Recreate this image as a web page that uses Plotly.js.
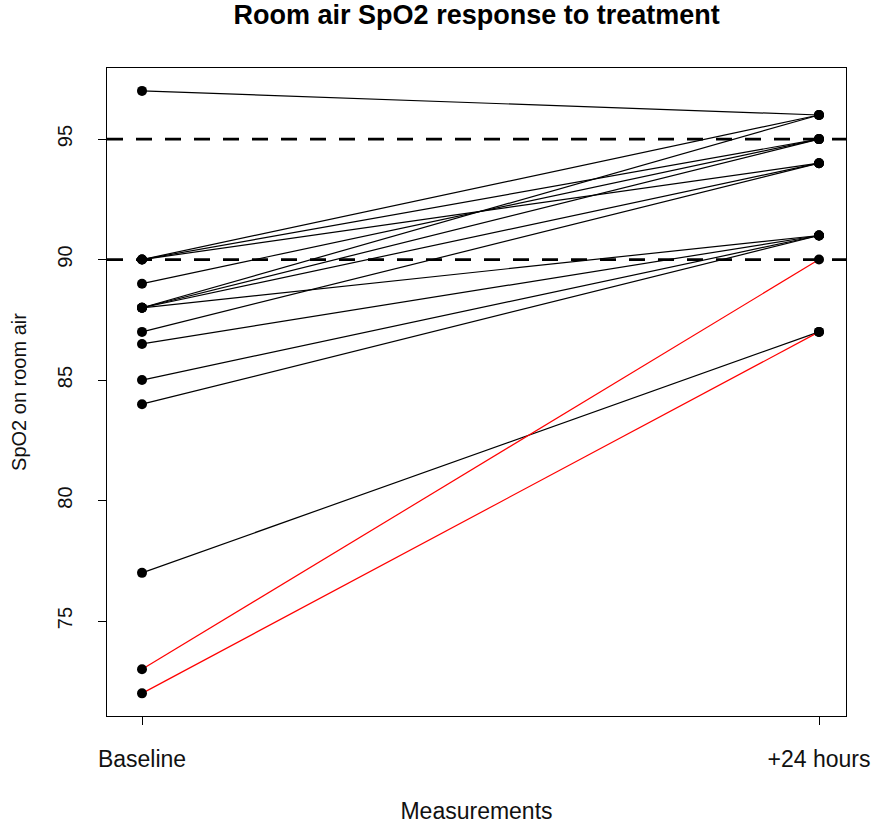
<!DOCTYPE html>
<html>
<head>
<meta charset="utf-8">
<script src="https://cdn.plot.ly/plotly-3.0.1.min.js"></script>
<style>html,body{margin:0;padding:0;background:#fff;}#chart{width:873px;height:826px;}</style>
</head>
<body>
<div id="chart"></div>
<script>
// Data
var timepoints = ["Baseline", "+24 hours"];
var baseline   = [97, 90, 90, 90, 89, 88, 88, 88, 88, 87, 86.5, 85, 84, 77, 73, 72];
var after24h   = [96, 96, 95, 94, 95, 96, 95, 94, 91, 94, 91,   91, 91, 87, 90, 87];
var group      = ["std","std","std","std","std","std","std","std","std","std","std","std","std","std","highlight","highlight"];
var thresholds = [90, 95];
var yTicks     = [75, 80, 85, 90, 95];

var groupColor = {std: "#000000", highlight: "#ff0000"};
var xPos = [1, 2];

var traces = [];
for (var i = 0; i < baseline.length; i++) {
  traces.push({
    x: xPos, y: [baseline[i], after24h[i]],
    mode: "lines", type: "scatter",
    line: {color: groupColor[group[i]], width: 1.2},
    hoverinfo: "skip", showlegend: false
  });
}
var px = [], py = [];
for (var j = 0; j < baseline.length; j++) {
  px.push(xPos[0], xPos[1]);
  py.push(baseline[j], after24h[j]);
}
traces.push({
  x: px, y: py, mode: "markers", type: "scatter",
  marker: {color: "#000", size: 10},
  hoverinfo: "skip", showlegend: false
});

var shapes = thresholds.map(function (t) {
  return {type: "line", xref: "paper", x0: 0, x1: 1, yref: "y", y0: t, y1: t,
          line: {color: "#000", width: 2.6, dash: "16px,13px"}, layer: "above"};
});

var font = "Liberation Sans, Arial, Helvetica, sans-serif";
var layout = {
  width: 873, height: 826,
  margin: {l: 107, r: 27, t: 68, b: 110},
  paper_bgcolor: "#fff", plot_bgcolor: "#fff",
  font: {family: font, color: "#000"},
  title: {text: "<b>Room air SpO2 response to treatment</b>", font: {family: font, size: 27, color: "#000"},
          x: 0.546, xanchor: "center", xref: "container", y: 0.982, yanchor: "middle", yref: "container"},
  xaxis: {
    range: [1 - 35/677, 2 + 27/677],
    tickvals: xPos, ticktext: timepoints,
    ticks: "outside", ticklen: 8, tickcolor: "#000", tickwidth: 1,
    tickfont: {family: font, size: 23, color: "#111"},
    ticklabelstandoff: 14,
    showgrid: false, zeroline: false,
    showline: true, mirror: true, linecolor: "#000", linewidth: 1,
    title: {text: "Measurements", font: {family: font, size: 23, color: "#111"}, standoff: 32}
  },
  yaxis: {
    range: [71.06, 97.95],
    tickvals: yTicks, ticktext: yTicks.map(String),
    tickangle: -90,
    ticks: "outside", ticklen: 8, tickcolor: "#000", tickwidth: 1,
    tickfont: {family: font, size: 20, color: "#111"},
    ticklabelstandoff: 18,
    showgrid: false, zeroline: false,
    showline: true, mirror: true, linecolor: "#000", linewidth: 1,
    title: {text: "SpO2 on room air", font: {family: font, size: 20, color: "#111"}, standoff: 22}
  },
  shapes: shapes,
  showlegend: false
};

Plotly.newPlot("chart", traces, layout, {displayModeBar: false, staticPlot: true});
</script>
</body>
</html>
